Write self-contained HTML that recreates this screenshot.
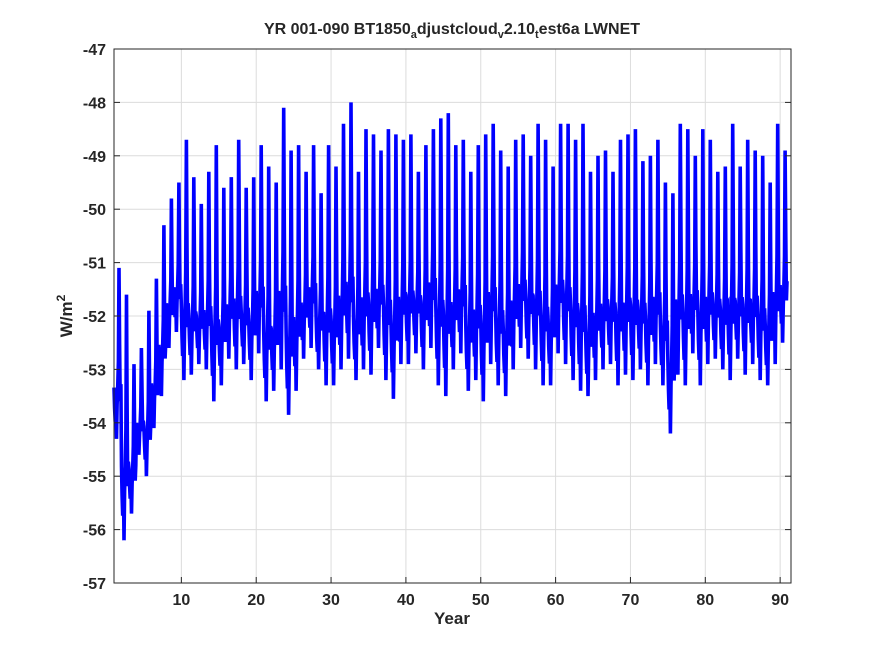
<!DOCTYPE html>
<html><head><meta charset="utf-8"><style>
body{margin:0;background:#fff;font-family:"Liberation Sans",sans-serif}
svg text{font-family:"Liberation Sans",sans-serif;font-weight:bold;fill:#262626}
</style></head><body>
<svg id="chart" width="875" height="656" viewBox="0 0 875 656" xmlns="http://www.w3.org/2000/svg">
<rect width="875" height="656" fill="#fff"/>
<text x="452" y="34" text-anchor="middle" font-size="16">YR 001-090 BT1850<tspan dy="4" font-size="11">a</tspan><tspan dy="-4">djustcloud</tspan><tspan dy="4" font-size="11">v</tspan><tspan dy="-4">2.10</tspan><tspan dy="4" font-size="11">t</tspan><tspan dy="-4">est6a LWNET</tspan></text>
<g id="grid"></g>
<g id="series"></g>
<rect x="114" y="49" width="677" height="534" fill="none" stroke="#262626" stroke-width="1"/>
<g id="ticks"></g>
<text x="452" y="624" text-anchor="middle" font-size="17">Year</text>
<text transform="translate(72,316) rotate(-90)" text-anchor="middle" font-size="17">W/m<tspan dy="-7" font-size="12">2</tspan></text>
</svg>
<script>
const yearMax=[-51.1,-51.6,-52.9,-52.6,-51.9,-51.3,-50.3,-49.8,-49.5,-48.7,-49.4,-49.9,-49.3,-48.8,-49.6,-49.4,-48.7,-49.6,-49.4,-48.8,-49.2,-49.5,-48.1,-48.9,-48.8,-49.3,-48.8,-49.7,-48.8,-49.2,-48.4,-48.0,-49.3,-48.5,-48.6,-48.9,-48.5,-48.6,-48.7,-48.6,-49.3,-48.8,-48.5,-48.3,-48.2,-48.8,-48.7,-49.3,-48.8,-48.6,-48.4,-48.9,-49.2,-48.7,-48.6,-49.0,-48.4,-48.7,-49.2,-48.4,-48.4,-48.7,-48.4,-49.3,-49.0,-48.9,-49.3,-48.7,-48.6,-48.5,-49.1,-49.0,-48.7,-49.5,-49.7,-48.4,-48.5,-49.0,-48.5,-48.7,-49.3,-49.2,-48.4,-49.2,-48.7,-48.9,-49.0,-49.5,-48.4,-48.9];
const yearMin=[-54.3,-56.2,-55.7,-54.6,-55.0,-54.1,-53.5,-52.6,-52.3,-53.2,-53.1,-52.9,-53.0,-53.6,-53.3,-52.8,-53.0,-52.9,-53.2,-52.7,-53.6,-53.4,-53.0,-53.85,-53.4,-52.8,-52.6,-53.0,-53.3,-53.3,-53.0,-52.8,-53.2,-53.0,-53.1,-52.6,-53.2,-53.55,-52.9,-52.9,-52.7,-53.0,-52.6,-53.3,-53.5,-53.0,-52.7,-53.4,-53.2,-53.6,-52.9,-53.3,-53.5,-53.0,-52.6,-52.8,-53.0,-53.3,-53.3,-52.7,-52.9,-53.2,-53.4,-53.5,-53.2,-53.0,-52.9,-53.3,-53.1,-53.2,-53.0,-53.3,-52.9,-53.3,-54.2,-53.1,-53.3,-52.7,-53.3,-52.9,-52.8,-53.0,-53.2,-52.8,-53.1,-52.9,-53.2,-53.3,-52.9,-52.5];
const seasonShape=[0.3,0.18,0.1,0.25,0.0,0.2,0.3,0.45,1.0,0.55,0.22,0.32];
const xTicks=[10,20,30,40,50,60,70,80,90];
const yTicks=[-47,-48,-49,-50,-51,-52,-53,-54,-55,-56,-57];
const NS="http://www.w3.org/2000/svg";
const X0=114,X1=791,Y0=49,Y1=583,XMIN=1,XMAX=91.45,YMAX=-47,YMIN=-57;
function xs(t){return X0+(t-XMIN)/(XMAX-XMIN)*(X1-X0);}
function ys(v){return Y0+(YMAX-v)/(YMAX-YMIN)*(Y1-Y0);}
const grid=document.getElementById('grid'),ticks=document.getElementById('ticks');
xTicks.forEach(t=>{
 const l=document.createElementNS(NS,'line');
 
 
 l.setAttribute('x1',xs(t));l.setAttribute('x2',xs(t));l.setAttribute('y1',Y0);l.setAttribute('y2',Y1);
 l.setAttribute('stroke','#dcdcdc');grid.appendChild(l);
 const k=document.createElementNS(NS,'line');
 
 
 k.setAttribute('x1',xs(t));k.setAttribute('x2',xs(t));k.setAttribute('y1',Y1);k.setAttribute('y2',Y1-6);
 k.setAttribute('stroke','#262626');ticks.appendChild(k);
 const tx=document.createElementNS(NS,'text');
 
 
 tx.setAttribute('x',xs(t));tx.setAttribute('y',Y1+22);tx.setAttribute('text-anchor','middle');tx.setAttribute('font-size','16');
 tx.textContent=t;ticks.appendChild(tx);
});
yTicks.forEach(v=>{
 const l=document.createElementNS(NS,'line');
 
 
 l.setAttribute('x1',X0);l.setAttribute('x2',X1);l.setAttribute('y1',ys(v));l.setAttribute('y2',ys(v));
 l.setAttribute('stroke','#dcdcdc');grid.appendChild(l);
 [[X0,X0+6],[X1,X1-6]].forEach(p=>{
  const k=document.createElementNS(NS,'line');
  
  
  k.setAttribute('x1',p[0]);k.setAttribute('x2',p[1]);k.setAttribute('y1',ys(v));k.setAttribute('y2',ys(v));
  k.setAttribute('stroke','#262626');ticks.appendChild(k);
 });
 const tx=document.createElementNS(NS,'text');
 
 
 tx.setAttribute('x',X0-8);tx.setAttribute('y',ys(v)+6);tx.setAttribute('text-anchor','end');tx.setAttribute('font-size','16');
 tx.textContent=v;ticks.appendChild(tx);
});
let pts=[];
for(let i=0;i<yearMax.length;i++){
 for(let m=0;m<12;m++){
  const v=yearMin[i]+seasonShape[m]*(yearMax[i]-yearMin[i]);
  pts.push(xs(i+1+m/12).toFixed(1)+','+ys(v).toFixed(1));
 }
}
const pl=document.createElementNS(NS,'polyline');


pl.setAttribute('points',pts.join(' '));
pl.setAttribute('fill','none');pl.setAttribute('stroke','#0000ff');pl.setAttribute('stroke-width','3.6');pl.setAttribute('stroke-linejoin','miter');
document.getElementById('series').appendChild(pl);
</script>
</body></html>
